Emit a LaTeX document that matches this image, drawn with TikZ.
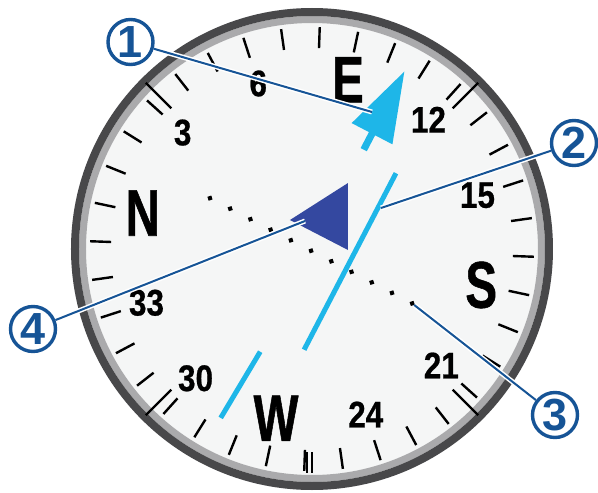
\documentclass[tikz,border=0pt]{standalone}
\usepackage{fontspec}
\setmainfont{Liberation Sans}
\newfontfamily\dialfont[FakeStretch=0.85, FakeBold=0.6]{Liberation Sans}
\newfontfamily\cardfont[FakeStretch=0.72, FakeBold=0.8]{Liberation Sans}
\usepackage{tikz}
\usetikzlibrary{calc}

\pgfdeclarelayer{front}
\pgfsetlayers{main,front}

\definecolor{calloutblue}{RGB}{22,84,150}
\definecolor{courseblue}{RGB}{30,182,232}
\definecolor{pointerblue}{RGB}{52,72,160}
\definecolor{ringdark}{RGB}{72,72,74}
\definecolor{ringlight}{RGB}{170,170,172}
\definecolor{dialface}{RGB}{245,246,246}

\begin{document}
\begin{tikzpicture}[
  x=1pt, y=1pt,
  dialtick/.style={line width=2.4pt, black},
  dialnum/.style={font=\dialfont\bfseries\fontsize{37}{37}\selectfont, inner sep=0pt},
  cardinal/.style={font=\cardfont\bfseries\fontsize{66}{66}\selectfont, inner sep=0pt},
  callout/.style={circle, draw=calloutblue, line width=3.4pt, fill=white,
    minimum size=45pt, inner sep=0pt, text=calloutblue,
    font=\bfseries\fontsize{45}{45}\selectfont},
  leader/.style={draw=calloutblue, line width=2pt,
    preaction={draw=white, line width=5pt}},
  course/.style={courseblue, line width=5pt},
]
\useasboundingbox[fill=white] (-312,-244) rectangle (286,249);

% Bezel and face
\fill[dialface] (0,0) circle (226);
\draw[ringlight, line width=7pt] (0,0) circle (229.5);
\draw[ringdark, line width=8pt] (0,0) circle (237);

% Card ticks (N at 168 deg)
\foreach \h in {0,10,...,350} {
  \draw[dialtick] ({168-\h}:201) -- ({168-\h}:222);
}
% Fixed bezel marks
\foreach \a in {45,135,225,315} {
  \draw[dialtick] (\a:199) -- (\a:235);
}
\draw[dialtick] ([xshift=-5]-90:203) -- ([xshift=-5]-90:224);
\draw[dialtick] ([xshift=0]-90:203) -- ([xshift=0]-90:224);

% Degree labels
\foreach \h/\lab in {30/3, 60/6, 120/12, 150/15, 210/21, 240/24, 300/30, 330/33} {
  \node[dialnum] (deg\lab) at ({168-\h}:174) {\lab};
}
% Cardinal points
\foreach \h/\lab in {0/N, 90/E, 180/S, 270/W} {
  \node[cardinal] (card\lab) at ({168-\h}:173) {\lab};
}

% Course deviation indicator
\begin{scope}[rotate=-27.5]
  \foreach \k in {-5,...,5} {
    \coordinate (dot\k) at ({\k*22.8},-2);
    \fill (dot\k) +(2.9,0) -- +(0,2.9) -- +(-2.9,0) -- +(0,-2.9) -- cycle;
  }
  \draw[course] (39.5,-93) -- (39.5,106);
  \draw[course] (1.5,-115) -- (-3,-192);
  % course arrow
  \draw[courseblue, line width=7pt] (0,112) -- (0,131);
  \fill[courseblue] (0,200) -- (-23,130) -- (23,130) -- cycle;
\end{scope}

% Bearing pointer
\fill[pointerblue] (-22,29) -- (36,66) -- (36,-1) -- cycle;

% Callout targets
\coordinate (arrowpt) at (60,137);
\coordinate (barpt) at (69,41);
\coordinate (pointerpt) at (-7,28);

\begin{pgfonlayer}{front}
  \node[callout] (c1) at (-181.5,207) {1};
  \node[callout] (c2) at (262,106) {2};
  \node[callout] (c3) at (243,-166) {3};
  \node[callout] (c4) at (-279,-80) {4};
\end{pgfonlayer}

\draw[leader] (c1) -- (arrowpt);
\draw[leader] (c2) -- (barpt);
\draw[leader, shorten >=2.5pt] (c3) -- (dot5);
\draw[leader] (c4) -- (pointerpt);
\end{tikzpicture}
\end{document}
